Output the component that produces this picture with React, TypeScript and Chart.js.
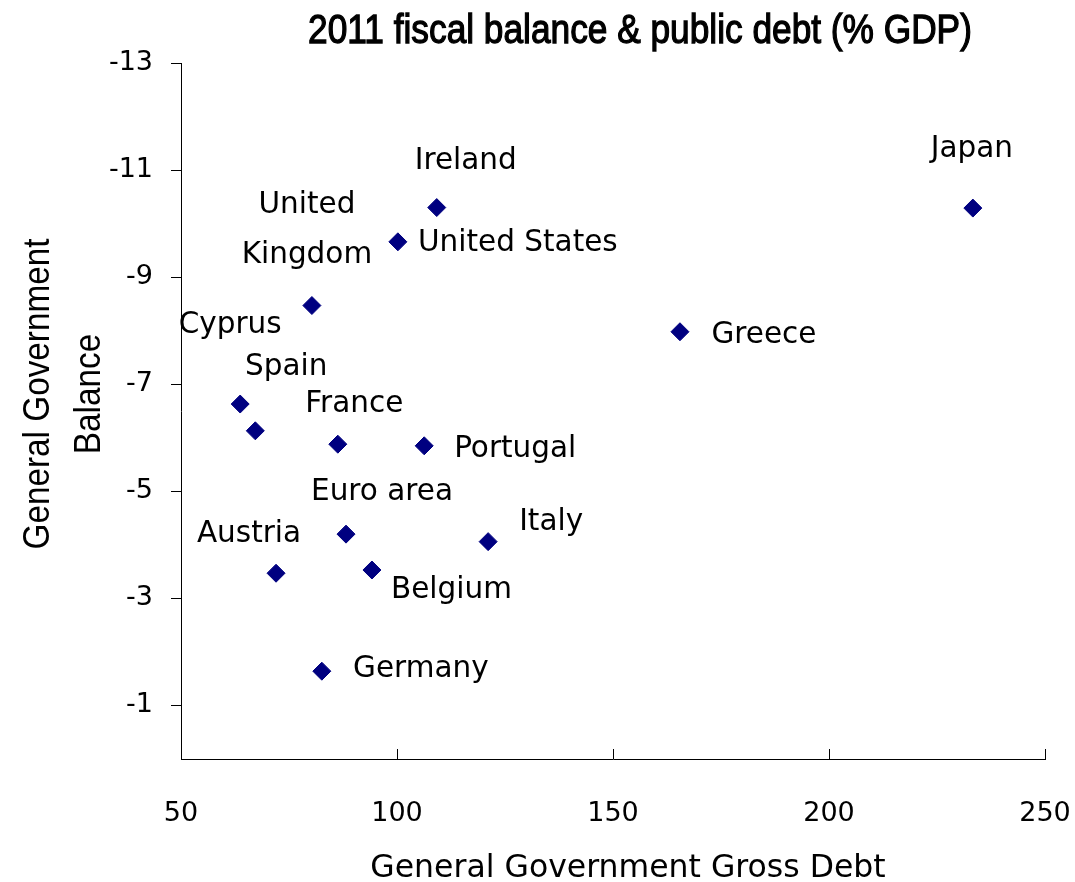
import React, { useEffect, useRef } from 'react';
import { Chart, registerables } from 'chart.js';

Chart.register(...registerables);

// ---- Data ----
const countries: string[][] = [
  ['Japan'],
  ['Ireland'],
  ['United States'],
  ['United', 'Kingdom'],
  ['Greece'],
  ['Cyprus'],
  ['Spain'],
  ['France'],
  ['Portugal'],
  ['Euro area'],
  ['Italy'],
  ['Austria'],
  ['Belgium'],
  ['Germany'],
];
const grossDebt = [233.3, 109.2, 100.2, 80.3, 165.5, 63.7, 67.2, 86.3, 106.3, 88.2, 121.1, 72.0, 94.2, 82.6];
const govBalance = [-10.29, -10.3, -9.66, -8.47, -7.98, -6.63, -6.13, -5.88, -5.85, -4.2, -4.06, -3.47, -3.53, -1.64];
const xTicks = [50, 100, 150, 200, 250];
const yTicks = [-13, -11, -9, -7, -5, -3, -1];

const chartTitle = '2011 fiscal balance & public debt (% GDP)';
const xTitle = 'General Government Gross Debt';
const yTitle = ['General Government', 'Balance'];

// label placement (offset of label anchor from its point, in px) — layout only
const labelOffsets: [number, number][] = [
  [-1, -51], [29, -39], [120, 9], [-5, -93], [84, 11], [-10, -71], [31, -56],
  [16.5, -32], [91, 11], [36, -34], [63, -12], [-27, -31], [79.5, 28], [99, 6],
];

const LABEL_FONT = '29.5px "DejaVu Sans"';
const TICK_FONT = { family: 'DejaVu Sans', size: 27 };

const decorPlugin = {
  id: 'decor',
  afterDatasetsDraw(chart: any) {
    const { ctx } = chart;
    const meta = chart.getDatasetMeta(0);
    ctx.save();
    ctx.fillStyle = '#000';
    ctx.font = LABEL_FONT;
    ctx.textAlign = 'center';
    ctx.textBaseline = 'alphabetic';
    meta.data.forEach((pt: any, i: number) => {
      const [dx, dy] = labelOffsets[i];
      countries[i].forEach((line, j) => {
        ctx.fillText(line, pt.x + dx, pt.y + dy + j * 50);
      });
    });
    ctx.restore();
  },
  afterDraw(chart: any) {
    const { ctx, chartArea, scales } = chart;
    const cx = (chartArea.left + chartArea.right) / 2;
    const cy = (chartArea.top + chartArea.bottom) / 2;
    ctx.save();
    // x tick marks (inward)
    ctx.strokeStyle = '#000';
    ctx.lineWidth = 1;
    xTicks.forEach((v) => {
      const px = Math.round(scales.x.getPixelForValue(v)) + 0.5;
      ctx.beginPath();
      ctx.moveTo(px, chartArea.bottom);
      ctx.lineTo(px, chartArea.bottom - 10);
      ctx.stroke();
    });
    ctx.fillStyle = '#000';
    // main title
    ctx.save();
    ctx.textAlign = 'center';
    ctx.textBaseline = 'alphabetic';
    ctx.font = '41px "Liberation Sans"';
    ctx.translate(cx + 27, chartArea.top - 20);
    ctx.scale(0.86, 1);
    ctx.lineWidth = 1.3;
    ctx.strokeStyle = '#000';
    ctx.fillText(chartTitle, 0, 0);
    ctx.strokeText(chartTitle, 0, 0);
    ctx.restore();
    // x title
    ctx.save();
    ctx.textAlign = 'center';
    ctx.textBaseline = 'alphabetic';
    ctx.font = '31.5px "DejaVu Sans"';
    ctx.fillText(xTitle, cx + 15, chartArea.bottom + 118);
    ctx.restore();
    // y title
    ctx.save();
    ctx.textAlign = 'center';
    ctx.textBaseline = 'alphabetic';
    ctx.font = '37px "Liberation Sans"';
    yTitle.forEach((line, j) => {
      ctx.save();
      ctx.translate(49 + j * 51, cy - 17);
      ctx.rotate(-Math.PI / 2);
      ctx.scale(0.9, 1);
      ctx.fillText(line, 0, 0);
      ctx.restore();
    });
    ctx.restore();
    ctx.restore();
  },
};

export default function App() {
  const canvasRef = useRef<HTMLCanvasElement | null>(null);

  useEffect(() => {
    if (!canvasRef.current) return;
    const chart = new Chart(canvasRef.current, {
      type: 'scatter',
      data: {
        datasets: [
          {
            data: grossDebt.map((x, i) => ({ x, y: govBalance[i] })),
            pointStyle: 'rectRot',
            pointRadius: 9,
            pointHoverRadius: 9,
            backgroundColor: '#000080',
            borderColor: '#000080',
            borderWidth: 1,
          },
        ],
      },
      options: {
        responsive: false,
        animation: false,
        devicePixelRatio: 1,
        layout: { padding: { top: 63, right: 30, bottom: 0, left: 0 } },
        plugins: {
          legend: { display: false },
          tooltip: { enabled: false },
          title: { display: false },
        },
        scales: {
          x: {
            type: 'linear',
            min: 50,
            max: 250,
            afterBuildTicks: (s: any) => {
              s.ticks = xTicks.map((value) => ({ value }));
            },
            afterFit: (s: any) => {
              s.height = 123;
            },
            grid: { display: false, drawTicks: true, tickLength: 36 },
            border: { display: true, color: '#000', width: 1 },
            ticks: { font: TICK_FONT, color: '#000', padding: 3, maxRotation: 0, autoSkip: false },
          },
          y: {
            type: 'linear',
            reverse: true,
            min: -13,
            max: 0,
            afterBuildTicks: (s: any) => {
              s.ticks = yTicks.map((value) => ({ value }));
            },
            afterFit: (s: any) => {
              s.width = 181;
            },
            grid: {
              display: true,
              drawOnChartArea: false,
              drawTicks: true,
              tickLength: 10,
              color: '#000',
              lineWidth: 1,
            },
            border: { display: true, color: '#000', width: 1 },
            ticks: { font: TICK_FONT, color: '#000', padding: 18, autoSkip: false },
          },
        },
      },
      plugins: [decorPlugin],
    });
    return () => chart.destroy();
  }, []);

  return (
    <div style={{ position: 'absolute', left: 0, top: 0, width: 1075, height: 882, background: '#fff' }}>
      <canvas ref={canvasRef} width={1075} height={882} style={{ width: 1075, height: 882 }} />
    </div>
  );
}
